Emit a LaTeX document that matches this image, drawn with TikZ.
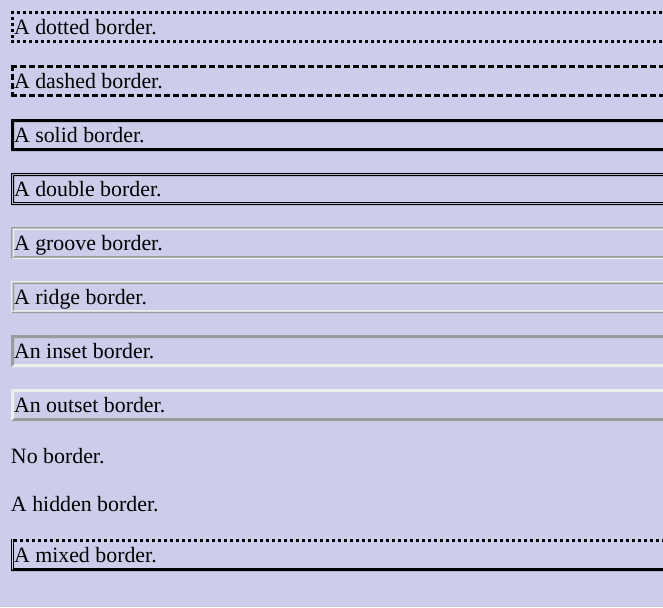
\documentclass[tikz,border=0pt]{standalone}
\usepackage{fontspec}
\setmainfont{Liberation Serif}
\definecolor{bgc}{RGB}{205,205,235}
\definecolor{dkg}{RGB}{155,155,155}
\definecolor{ltg}{RGB}{238,238,238}
% band between inset #2 and inset #3 of the box whose top is #1
\newcommand\cssband[7]{%
 \fill[#4] ({11+#2},{#1+#2}) -- ({670-#2},{#1+#2}) -- ({670-#3},{#1+#3}) -- ({11+#3},{#1+#3}) -- cycle;
 \fill[#5] ({670-#2},{#1+#2}) -- ({670-#2},{#1+32-#2}) -- ({670-#3},{#1+32-#3}) -- ({670-#3},{#1+#3}) -- cycle;
 \fill[#6] ({11+#2},{#1+32-#2}) -- ({670-#2},{#1+32-#2}) -- ({670-#3},{#1+32-#3}) -- ({11+#3},{#1+32-#3}) -- cycle;
 \fill[#7] ({11+#2},{#1+#2}) -- ({11+#2},{#1+32-#2}) -- ({11+#3},{#1+32-#3}) -- ({11+#3},{#1+#3}) -- cycle;
}
\begin{document}
\begin{tikzpicture}[x=0.75pt,y=-0.75pt,
  label/.style={anchor=base west,inner sep=0pt,outer sep=0pt,font=\fontsize{16.4pt}{19pt}\selectfont},
  dotline/.style={line width=2.25pt,dash pattern=on 2.25pt off 2.25pt},
  dashline/.style={line width=2.25pt,dash pattern=on 4.5pt off 2.25pt},
  solidline/.style={line width=2.25pt}]
\fill[bgc] (0,0) rectangle (663,607);
\useasboundingbox (0,0) rectangle (663,607);
% dotted
\draw[dotline] (11,12.5) -- (670,12.5);
\draw[dotline] (11,41.5) -- (670,41.5);
\draw[dotline] (12.5,11) -- (12.5,43);
\node[label] (t1) at (14,34) {A dotted border.};
% dashed
\draw[dashline] (11,66.5) -- (670,66.5);
\draw[dashline] (11,95.5) -- (670,95.5);
\draw[dashline] (12.5,65) -- (12.5,97);
\node[label] (t2) at (14,88) {A dashed border.};
% solid
\cssband{119}{0}{3}{black}{black}{black}{black}
\node[label] (t3) at (14,142) {A solid border.};
% double
\cssband{173}{0}{1}{black}{black}{black}{black}
\cssband{173}{2}{3}{black}{black}{black}{black}
\node[label] (t4) at (14,196) {A double border.};
% groove
\cssband{227}{0}{1.5}{dkg}{ltg}{ltg}{dkg}
\cssband{227}{1.5}{3}{ltg}{dkg}{dkg}{ltg}
\node[label] (t5) at (14,250) {A groove border.};
% ridge
\cssband{281}{0}{1.5}{ltg}{dkg}{dkg}{ltg}
\cssband{281}{1.5}{3}{dkg}{ltg}{ltg}{dkg}
\node[label] (t6) at (14,304) {A ridge border.};
% inset
\cssband{335}{0}{3}{dkg}{ltg}{ltg}{dkg}
\node[label] (t7) at (14,358) {An inset border.};
% outset
\cssband{389}{0}{3}{ltg}{dkg}{dkg}{ltg}
\node[label] (t8) at (14,412) {An outset border.};
% none / hidden
\node[label] (t9) at (11,463) {No border.};
\node[label] (t10) at (11,511) {A hidden border.};
% mixed
\draw[dotline] (14,540.5) -- (670,540.5);
\fill[black] (11,571) -- (670,571) -- (667,568) -- (14,568) -- cycle;
\fill[black] (11,539) rectangle (12,571);
\fill[black] (13,539) rectangle (14,571);
\node[label] (t11) at (14,562) {A mixed border.};
\end{tikzpicture}
\end{document}
